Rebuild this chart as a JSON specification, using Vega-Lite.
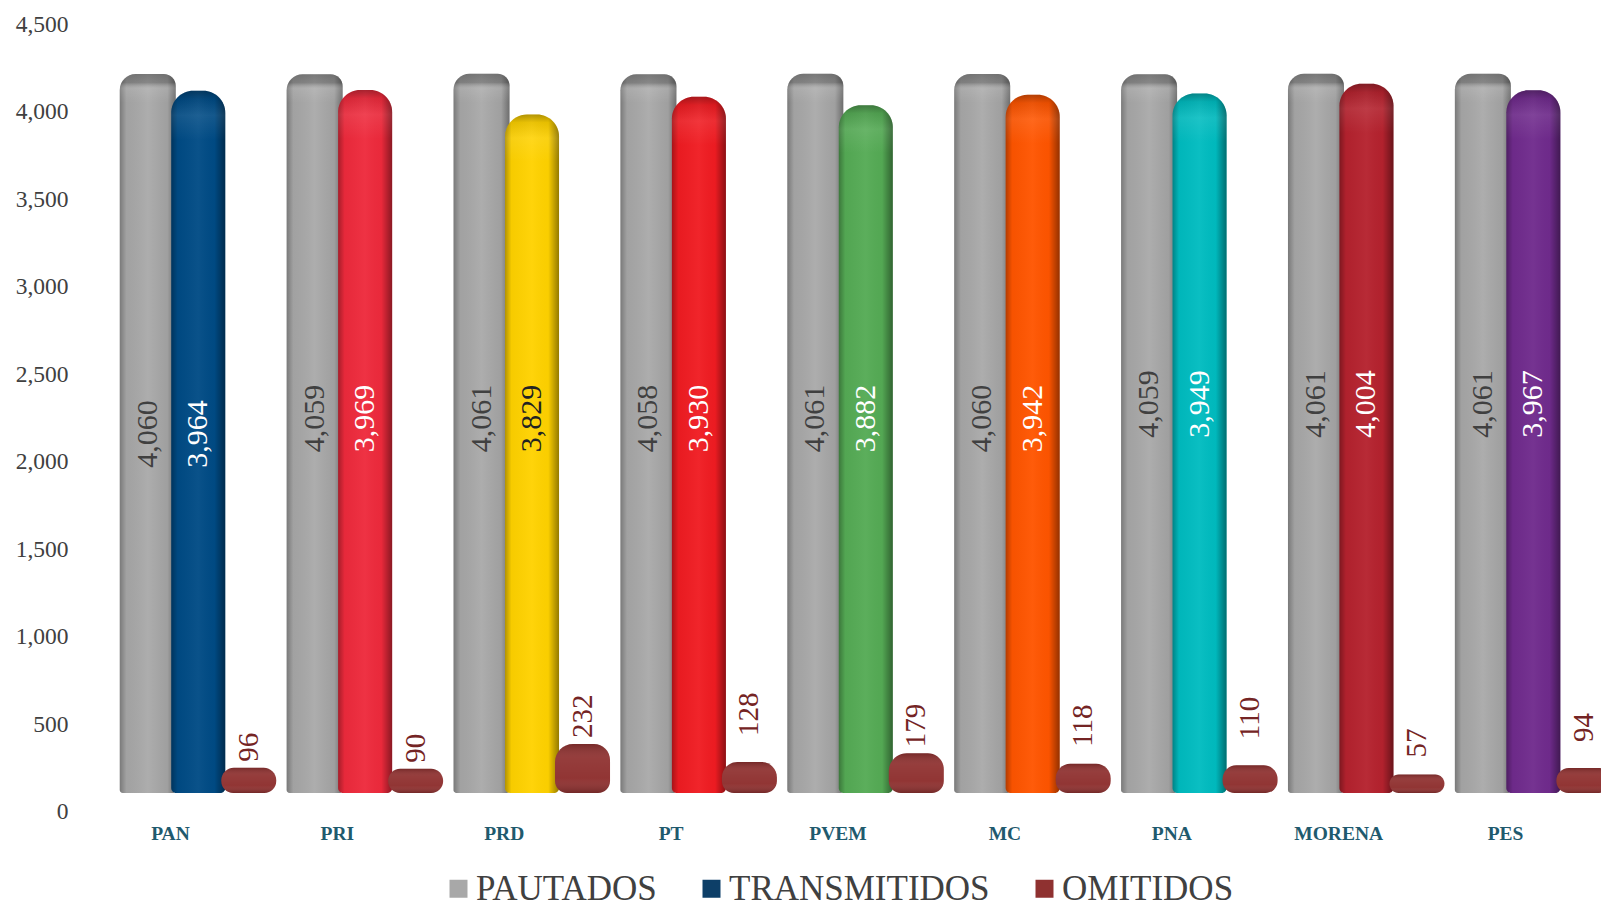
{"$schema":"https://vega.github.io/schema/vega-lite/v6.json","width":1502,"height":787.5,"autosize":"none","padding":{"left":87,"top":24,"right":12,"bottom":95.5},"background":"white","config":{"view":{"stroke":null}},
"datasets":{"rows":[
{"party":"PAN","series":"PAUTADOS","value":4060},{"party":"PAN","series":"TRANSMITIDOS","value":3964},{"party":"PAN","series":"OMITIDOS","value":96},
{"party":"PRI","series":"PAUTADOS","value":4059},{"party":"PRI","series":"TRANSMITIDOS","value":3969},{"party":"PRI","series":"OMITIDOS","value":90},
{"party":"PRD","series":"PAUTADOS","value":4061},{"party":"PRD","series":"TRANSMITIDOS","value":3829},{"party":"PRD","series":"OMITIDOS","value":232},
{"party":"PT","series":"PAUTADOS","value":4058},{"party":"PT","series":"TRANSMITIDOS","value":3930},{"party":"PT","series":"OMITIDOS","value":128},
{"party":"PVEM","series":"PAUTADOS","value":4061},{"party":"PVEM","series":"TRANSMITIDOS","value":3882},{"party":"PVEM","series":"OMITIDOS","value":179},
{"party":"MC","series":"PAUTADOS","value":4060},{"party":"MC","series":"TRANSMITIDOS","value":3942},{"party":"MC","series":"OMITIDOS","value":118},
{"party":"PNA","series":"PAUTADOS","value":4059},{"party":"PNA","series":"TRANSMITIDOS","value":3949},{"party":"PNA","series":"OMITIDOS","value":110},
{"party":"MORENA","series":"PAUTADOS","value":4061},{"party":"MORENA","series":"TRANSMITIDOS","value":4004},{"party":"MORENA","series":"OMITIDOS","value":57},
{"party":"PES","series":"PAUTADOS","value":4061},{"party":"PES","series":"TRANSMITIDOS","value":3967},{"party":"PES","series":"OMITIDOS","value":94}
]},
"data":{"name":"rows"},
"encoding":{
"x":{"field":"party","type":"nominal","sort":null,"title":null,"scale":{"domain":["PAN","PRI","PRD","PT","PVEM","MC","PNA","MORENA","PES"],"paddingInner":0,"paddingOuter":0},"axis":{"ticks":false,"domain":false,"labelAngle":0,"labelFont":"Liberation Serif","labelFontWeight":"bold","labelFontSize":19.5,"labelColor":"#1f5a6e","labelPadding":13}},
"xOffset":{"field":"series","type":"nominal","scale":{"domain":["PAUTADOS","TRANSMITIDOS","OMITIDOS"],"range":[35.5,187],"paddingInner":0,"paddingOuter":0}},
"y":{"field":"value","type":"quantitative","stack":null,"title":null,"scale":{"domain":[0,4500],"nice":false},"axis":{"values":[0,500,1000,1500,2000,2500,3000,3500,4000,4500],"format":",.0f","ticks":false,"domain":false,"grid":false,"labelFont":"Liberation Serif","labelFontSize":23.5,"labelColor":"#404040","labelPadding":19}}
},
"layer":[
{"transform":[{"filter":"datum.series==='PAUTADOS'"}],
 "mark":{"type":"bar","width":56,"yOffset":-27,"cornerRadiusTopLeft":16,"cornerRadiusTopRight":12,"cornerRadiusBottomLeft":3,"cornerRadiusBottomRight":3},
 "encoding":{"y2":{"datum":106},"color":{"field":"series","type":"nominal","title":null,"scale":{"domain":["PAUTADOS","TRANSMITIDOS","OMITIDOS"],"range":["#a8a8a8","#0d3f68","#8f3130"]},"legend":{"orient":"none","legendX":354,"legendY":847,"direction":"horizontal","columns":3,"symbolType":"square","symbolSize":324,"symbolStrokeWidth":0,"labelFont":"Liberation Serif","labelFontSize":35,"labelColor":"#404040","labelOffset":0,"columnPadding":37,"labelLimit":400,"title":null}}}},
{"transform":[{"filter":"datum.series==='PAUTADOS'"}],
 "mark":{"type":"bar","width":56,"yOffset":-27,"cornerRadiusTopLeft":16,"cornerRadiusTopRight":12,"cornerRadiusBottomLeft":3,"cornerRadiusBottomRight":3,"fill":{"gradient":"linear","x1":0,"x2":1,"y1":0,"y2":0,"stops":[{"offset":0,"color":"rgba(0,0,0,0.28)"},{"offset":0.12,"color":"rgba(0,0,0,0.04)"},{"offset":0.5,"color":"rgba(255,255,255,0.06)"},{"offset":0.85,"color":"rgba(0,0,0,0.05)"},{"offset":1,"color":"rgba(0,0,0,0.35)"}]}},
 "encoding":{"y2":{"datum":106}}},
{"transform":[{"filter":"datum.series==='PAUTADOS'"}],
 "mark":{"type":"bar","width":56,"yOffset":-27,"cornerRadiusTopLeft":16,"cornerRadiusTopRight":12,"cornerRadiusBottomLeft":3,"cornerRadiusBottomRight":3,"fill":{"gradient":"linear","x1":0,"x2":0,"y1":0,"y2":1,"stops":[{"offset":0,"color":"rgba(0,0,0,0.3)"},{"offset":0.012,"color":"rgba(0,0,0,0.22)"},{"offset":0.02,"color":"rgba(255,255,255,0.1)"},{"offset":0.04,"color":"rgba(255,255,255,0)"},{"offset":1,"color":"rgba(255,255,255,0)"}]}},
 "encoding":{"y2":{"datum":106}}},
{"transform":[{"filter":"datum.series==='TRANSMITIDOS'"}],
 "mark":{"type":"bar","width":54,"yOffset":-27,"cornerRadiusTopLeft":22,"cornerRadiusTopRight":22,"cornerRadiusBottomLeft":5,"cornerRadiusBottomRight":5},
 "encoding":{"y2":{"datum":106},"fill":{"field":"party","type":"nominal","legend":null,"scale":{"domain":["PAN","PRI","PRD","PT","PVEM","MC","PNA","MORENA","PES"],"range":["#004b85","#ee2a3c","#ffd200","#f01c22","#55ab55","#ff5500","#00bcc0","#b5222e","#702b8d"]}}}},
{"transform":[{"filter":"datum.series==='TRANSMITIDOS'"}],
 "mark":{"type":"bar","width":54,"yOffset":-27,"cornerRadiusTopLeft":22,"cornerRadiusTopRight":22,"cornerRadiusBottomLeft":5,"cornerRadiusBottomRight":5,"fill":{"gradient":"linear","x1":0,"x2":1,"y1":0,"y2":0,"stops":[{"offset":0,"color":"rgba(0,0,0,0.3)"},{"offset":0.12,"color":"rgba(0,0,0,0.03)"},{"offset":0.5,"color":"rgba(255,255,255,0.04)"},{"offset":0.8,"color":"rgba(0,0,0,0.02)"},{"offset":1,"color":"rgba(0,0,0,0.42)"}]}},
 "encoding":{"y2":{"datum":106}}},
{"transform":[{"filter":"datum.series==='TRANSMITIDOS'"}],
 "mark":{"type":"bar","width":54,"yOffset":-27,"cornerRadiusTopLeft":22,"cornerRadiusTopRight":22,"cornerRadiusBottomLeft":5,"cornerRadiusBottomRight":5,"fill":{"gradient":"linear","x1":0,"x2":0,"y1":0,"y2":1,"stops":[{"offset":0,"color":"rgba(0,0,0,0.3)"},{"offset":0.012,"color":"rgba(0,0,0,0.08)"},{"offset":0.035,"color":"rgba(255,255,255,0.08)"},{"offset":0.07,"color":"rgba(255,255,255,0)"},{"offset":1,"color":"rgba(255,255,255,0)"}]}},
 "encoding":{"y2":{"datum":106}}},
{"transform":[{"filter":"datum.series==='OMITIDOS'"}],
 "mark":{"type":"bar","width":55,"yOffset":-27,"cornerRadiusTopLeft":18,"cornerRadiusTopRight":16,"cornerRadiusBottomLeft":12,"cornerRadiusBottomRight":12},
 "encoding":{"y2":{"datum":106},"color":{"field":"series","type":"nominal","title":null}}},
{"transform":[{"filter":"datum.series==='OMITIDOS'"}],
 "mark":{"type":"bar","width":55,"yOffset":-27,"cornerRadiusTopLeft":18,"cornerRadiusTopRight":16,"cornerRadiusBottomLeft":12,"cornerRadiusBottomRight":12,"fill":{"gradient":"linear","x1":0,"x2":0,"y1":0,"y2":1,"stops":[{"offset":0,"color":"rgba(0,0,0,0.18)"},{"offset":0.3,"color":"rgba(255,255,255,0.06)"},{"offset":0.7,"color":"rgba(255,255,255,0.02)"},{"offset":1,"color":"rgba(0,0,0,0.2)"}]}},
 "encoding":{"y2":{"datum":106}}},
{"transform":[{"filter":"datum.series!=='OMITIDOS'"},{"filter":{"field":"party","oneOf":["PAN"]}}],
 "mark":{"type":"text","angle":270,"font":"Liberation Serif","fontSize":30,"align":"center","baseline":"middle"},
 "encoding":{"y":{"datum":2157,"type":"quantitative","title":null,"axis":{"values":[0,500,1000,1500,2000,2500,3000,3500,4000,4500],"format":",.0f","ticks":false,"domain":false,"grid":false,"labelFont":"Liberation Serif","labelFontSize":23.5,"labelColor":"#404040","labelPadding":19}},"text":{"field":"value","type":"quantitative","format":","},"fill":{"condition":[{"test":"datum.series==='PAUTADOS'","value":"#404040"},{"test":"datum.party==='PRD'","value":"#222222"}],"value":"#ffffff"}}},
{"transform":[{"filter":"datum.series!=='OMITIDOS'"},{"filter":{"field":"party","oneOf":["PRI","PRD","PT","PVEM","MC"]}}],
 "mark":{"type":"text","angle":270,"font":"Liberation Serif","fontSize":30,"align":"center","baseline":"middle"},
 "encoding":{"y":{"datum":2246,"type":"quantitative","title":null,"axis":{"values":[0,500,1000,1500,2000,2500,3000,3500,4000,4500],"format":",.0f","ticks":false,"domain":false,"grid":false,"labelFont":"Liberation Serif","labelFontSize":23.5,"labelColor":"#404040","labelPadding":19}},"text":{"field":"value","type":"quantitative","format":","},"fill":{"condition":[{"test":"datum.series==='PAUTADOS'","value":"#404040"},{"test":"datum.party==='PRD'","value":"#222222"}],"value":"#ffffff"}}},
{"transform":[{"filter":"datum.series!=='OMITIDOS'"},{"filter":{"field":"party","oneOf":["PNA","MORENA","PES"]}}],
 "mark":{"type":"text","angle":270,"font":"Liberation Serif","fontSize":30,"align":"center","baseline":"middle"},
 "encoding":{"y":{"datum":2329,"type":"quantitative","title":null,"axis":{"values":[0,500,1000,1500,2000,2500,3000,3500,4000,4500],"format":",.0f","ticks":false,"domain":false,"grid":false,"labelFont":"Liberation Serif","labelFontSize":23.5,"labelColor":"#404040","labelPadding":19}},"text":{"field":"value","type":"quantitative","format":","},"fill":{"condition":[{"test":"datum.series==='PAUTADOS'","value":"#404040"},{"test":"datum.party==='PRD'","value":"#222222"}],"value":"#ffffff"}}},
{"transform":[{"filter":"datum.series==='OMITIDOS'"},{"filter":{"field":"party","oneOf":["PAN","PRI","PRD","PVEM"]}}],
 "mark":{"type":"text","angle":270,"font":"Liberation Serif","fontSize":29,"align":"left","baseline":"middle","yOffset":-33,"fill":"#742424"},
 "encoding":{"text":{"field":"value","type":"quantitative"}}},
{"transform":[{"filter":"datum.series==='OMITIDOS'"},{"filter":{"field":"party","oneOf":["MC","MORENA"]}}],
 "mark":{"type":"text","angle":270,"font":"Liberation Serif","fontSize":29,"align":"left","baseline":"middle","yOffset":-44,"fill":"#742424"},
 "encoding":{"text":{"field":"value","type":"quantitative"}}},
{"transform":[{"filter":"datum.series==='OMITIDOS'"},{"filter":{"field":"party","oneOf":["PT","PNA","PES"]}}],
 "mark":{"type":"text","angle":270,"font":"Liberation Serif","fontSize":29,"align":"left","baseline":"middle","yOffset":-53,"fill":"#742424"},
 "encoding":{"text":{"field":"value","type":"quantitative"}}}
]}
